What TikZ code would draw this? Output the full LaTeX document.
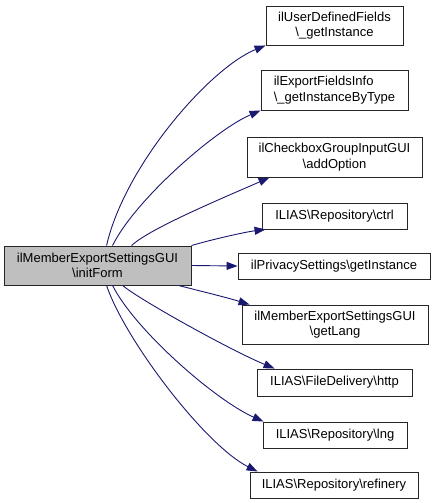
\documentclass[tikz,border=0pt]{standalone}
\usepackage{fontspec}
\setmainfont{Liberation Sans}
\usetikzlibrary{arrows.meta}
\definecolor{edgeblue}{HTML}{191970}
\definecolor{mainfill}{HTML}{BFBFBF}
\tikzset{
  fn/.style={draw=black!85, line width=0.9pt, fill=white, rectangle, inner sep=0pt,
    align=center, font=\fontsize{13}{15.5}\selectfont},
  mainfn/.style={fn, fill=mainfill},
  call/.style={draw=edgeblue, line width=0.9pt,
    -{Triangle[length=11pt,width=8pt,fill=edgeblue]}}
}
\begin{document}
\begin{tikzpicture}[x=1pt,y=-1pt]
\useasboundingbox (0,0) rectangle (436,503);
\node[mainfn, minimum width=187pt, minimum height=39pt] (main) at (97.5,265.5)
  {ilMemberExportSettingsGUI\\\textbackslash initForm};
\node[fn, minimum width=137pt, minimum height=39pt] (n1) at (334.5,25.5)
  {ilUserDefinedFields\\\textbackslash\_getInstance};
\node[fn, align=left, minimum width=147pt, minimum height=40pt] (n2) at (334.5,90)
  {ilExportFieldsInfo\\\textbackslash\_getInstanceByType};
\node[fn, minimum width=175pt, minimum height=40pt] (n3) at (334.5,157)
  {ilCheckboxGroupInputGUI\\\textbackslash addOption};
\node[fn, minimum width=145pt, minimum height=26pt] (n4) at (334.5,216)
  {ILIAS\textbackslash Repository\textbackslash ctrl};
\node[fn, minimum width=192pt, minimum height=26pt] (n5) at (334,266)
  {ilPrivacySettings\textbackslash getInstance};
\node[fn, minimum width=186pt, minimum height=39pt] (n6) at (335,324.5)
  {ilMemberExportSettingsGUI\\\textbackslash getLang};
\node[fn, minimum width=155pt, minimum height=27pt] (n7) at (334.5,382.5)
  {ILIAS\textbackslash FileDelivery\textbackslash http};
\node[fn, minimum width=144pt, minimum height=26pt] (n8) at (335,435)
  {ILIAS\textbackslash Repository\textbackslash lng};
\node[fn, minimum width=168pt, minimum height=26pt] (n9) at (334,485)
  {ILIAS\textbackslash Repository\textbackslash refinery};

\draw[call] ([xshift=103pt]main.north west) .. controls (125,165) and (210,68) .. (n1.south west);
\draw[call] ([xshift=109pt]main.north west) .. controls (135,200) and (215,130) .. (n2.south west);
\draw[call] ([xshift=128pt]main.north west) .. controls (150,228) and (230,195) .. ([xshift=23pt]n3.south west);
\draw[call] (main.north east) .. controls (210,240) and (245,232) .. ([xshift=4pt]n4.south west);
\draw[call] (main.east) -- (n5.west);
\draw[call] ([xshift=-13pt]main.south east) .. controls (200,291) and (225,297) .. ([xshift=8pt]n6.north west);
\draw[call] ([xshift=119pt]main.south west) .. controls (140,300) and (230,350) .. ([xshift=18pt]n7.north west);
\draw[call] ([xshift=109pt]main.south west) .. controls (135,330) and (215,400) .. ([xshift=1pt]n8.north west);
\draw[call] ([xshift=103pt]main.south west) .. controls (125,340) and (205,445) .. ([xshift=8pt]n9.north west);
\end{tikzpicture}
\end{document}
